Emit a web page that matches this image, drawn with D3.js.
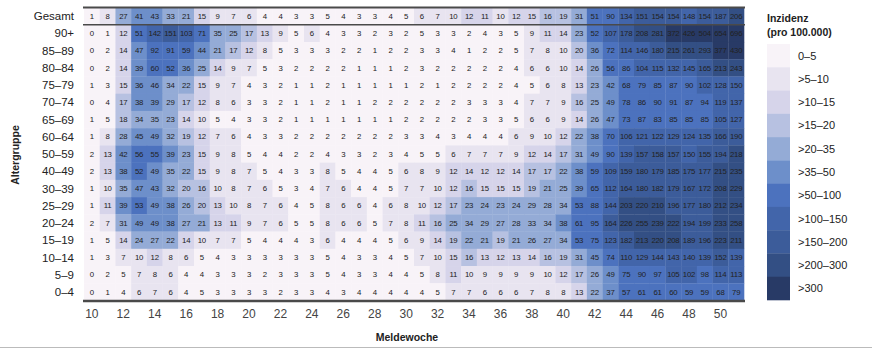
<!DOCTYPE html>
<html><head><meta charset="utf-8">
<script src="https://cdn.jsdelivr.net/npm/d3@7"></script>
<style>body{margin:0;background:#fff}svg{display:block}</style>
</head><body>
<svg id="c" width="872" height="350"></svg>
<script>
const weeks = d3.range(10, 52);
const weekTicks = d3.range(10, 51, 2);
const rows = ["Gesamt","90+","85–89","80–84","75–79","70–74","65–69","60–64","50–59","40–49","30–39","25–29","20–24","15–19","10–14","5–9","0–4"];
const Gesamt = [1,8,27,41,43,33,21,15,9,7,6,4,4,3, 3,5,4,3,3,4,5,6,7,10,12,11,10,12, 15,16,19,31,51,90,134,151,154,154,148,154,187,206];
const a90 = [0,1,12,51,142,151,103,71,35,25,17,13,9,5, 6,4,3,3,2,3,2,5,3,3,2,4,3,5, 9,11,14,23,52,107,178,208,281,372,426,504,654,696];
const a85 = [0,2,14,47,92,91,59,44,21,17,12,8,5,3, 3,3,2,2,1,2,2,3,3,4,1,2,2,5, 7,8,10,20,36,72,114,146,180,215,261,293,377,430];
const a80 = [0,2,14,39,60,52,36,25,14,9,7,5,3,2, 2,2,2,1,1,1,2,3,2,2,2,2,2,4, 6,6,10,14,26,56,86,104,115,132,145,165,213,243];
const a75 = [1,3,15,36,46,34,22,15,9,7,4,3,2,1, 1,2,1,1,1,1,1,2,1,2,2,2,2,4, 5,6,8,13,23,42,68,79,85,87,90,102,128,150];
const a70 = [0,4,17,38,39,29,17,12,8,6,3,3,2,1, 1,2,1,1,2,2,2,2,2,2,3,3,3,4, 7,7,9,16,25,49,78,86,90,91,87,94,119,137];
const a65 = [1,5,18,34,35,23,14,10,5,4,3,3,2,1, 1,1,1,1,1,1,2,2,2,2,2,3,3,5, 6,6,9,14,26,47,73,87,83,85,85,85,105,127];
const a60 = [1,8,28,45,49,32,19,12,7,6,4,3,3,2, 2,2,2,2,2,2,3,3,4,3,4,4,4,6, 9,10,12,22,38,70,106,121,122,129,124,135,166,190];
const a50 = [2,13,42,56,55,39,23,15,9,8,5,4,4,2, 2,4,3,3,2,3,4,5,5,6,7,7,7,9, 12,14,17,31,49,90,139,157,158,157,150,155,194,218];
const a40 = [2,13,38,52,49,35,22,15,9,8,7,5,4,3, 3,8,5,4,4,5,6,8,9,12,14,12,12,14, 17,17,22,38,59,109,159,180,179,185,175,177,215,235];
const a30 = [1,10,35,47,43,32,20,16,10,8,7,6,5,3, 4,7,6,4,4,5,7,7,10,12,16,15,15,15, 19,21,25,39,65,112,164,180,182,179,167,172,208,229];
const a25 = [1,11,39,53,49,38,26,20,13,10,8,7,6,4, 5,8,6,6,4,6,8,10,12,17,23,24,23,24, 29,28,34,53,88,144,203,220,210,196,177,180,212,234];
const a20 = [2,7,31,49,49,38,27,21,13,11,9,7,6,5, 5,8,6,6,5,7,8,11,16,25,34,29,27,28, 33,34,38,61,95,164,226,255,239,222,194,199,233,258];
const a15 = [1,5,14,24,27,22,14,10,7,7,5,4,4,4, 3,6,4,4,4,5,6,9,14,19,22,21,19,21, 26,27,34,53,75,123,182,213,220,208,189,196,223,211];
const a10 = [1,3,7,10,12,8,6,5,4,3,3,3,3,3, 3,5,4,3,3,4,5,7,10,15,16,13,12,13, 14,16,19,31,45,74,110,129,144,143,140,139,152,139];
const a5 = [0,2,5,7,8,6,4,4,3,3,3,2,3,3, 3,5,4,3,3,4,4,5,8,11,10,9,9,9, 9,10,12,17,26,49,75,90,97,105,102,98,114,113];
const a0 = [0,1,4,6,7,6,4,5,3,3,3,3,2,3, 3,4,3,4,4,4,4,4,5,7,7,6,6,6, 7,8,8,13,22,37,57,61,61,60,59,59,68,79];
const series = [Gesamt,a90,a85,a80,a75,a70,a65,a60,a50,a40,a30,a25,a20,a15,a10,a5,a0];
const thresholds = [5,10,15,20,35,50,100,150,200,300];
const legendLabels = ["0–5",">5–10",">10–15",">15–20",">20–35",">35–50",">50–100",">100–150",">150–200",">200–300",">300"];
const colors = ["#f8f3f8","#e8e4f0","#d6d4ea","#b7c1e1","#94abd6","#6d8fca","#4c72be","#4265aa","#3c5c9a","#334f84","#283a66"];

const svg = d3.select("#c");
const x = d3.scaleBand().domain(weeks).range([84, 744]);
const y = d3.scaleBand().domain(rows).range([7.5, 300.5]);
const color = d3.scaleThreshold().domain(thresholds.map(t => t + 0.5)).range(colors);

const cells = [];
rows.forEach((r, i) => weeks.forEach((w, j) => cells.push({r, w, v: series[i][j]})));

const g = svg.append("g");
g.selectAll("rect").data(cells).join("rect")
  .attr("x", d => x(d.w)).attr("y", d => y(d.r))
  .attr("width", x.bandwidth() + 0.3).attr("height", y.bandwidth() + 0.3)
  .attr("fill", d => color(d.v));
g.selectAll("text").data(cells).join("text")
  .attr("x", d => x(d.w) + x.bandwidth() / 2)
  .attr("y", d => y(d.r) + y.bandwidth() / 2)
  .attr("dy", "0.35em").attr("text-anchor", "middle")
  .attr("font-family", "Liberation Sans, Arial, sans-serif")
  .attr("font-size", 7.8).attr("fill", "#222")
  .attr("letter-spacing", -0.25)
  .text(d => d.v);

// lines
const lineColor = "#4a4a4a";
svg.append("line").attr("x1", 83).attr("x2", 745).attr("y1", y("Gesamt")).attr("y2", y("Gesamt"))
  .attr("stroke", lineColor).attr("stroke-width", 2);
svg.append("line").attr("x1", 83).attr("x2", 745).attr("y1", y("90+")).attr("y2", y("90+"))
  .attr("stroke", lineColor).attr("stroke-width", 1.6);
svg.append("line").attr("x1", 83).attr("x2", 745).attr("y1", y.range()[1] + 0.5).attr("y2", y.range()[1] + 0.5)
  .attr("stroke", lineColor).attr("stroke-width", 2.6);

// row labels
svg.append("g").selectAll("text").data(rows).join("text")
  .attr("x", 74).attr("y", d => y(d) + y.bandwidth() / 2).attr("dy", "0.36em")
  .attr("text-anchor", "end").attr("font-family", "Liberation Sans, Arial, sans-serif")
  .attr("font-size", 11.5).attr("fill", "#222").text(d => d);

// x axis
const xa = svg.append("g").attr("transform", "translate(0,305)")
  .call(d3.axisBottom(x).tickValues(weekTicks).tickSize(0).tickPadding(4));
xa.select(".domain").remove();
xa.selectAll("text").attr("font-family", "Liberation Sans, Arial, sans-serif")
  .attr("font-size", 12).attr("fill", "#444");

svg.append("text").attr("x", 407).attr("y", 341).attr("text-anchor", "middle")
  .attr("font-family", "Liberation Sans, Arial, sans-serif").attr("font-weight", "bold")
  .attr("font-size", 10.5).attr("fill", "#222").text("Meldewoche");
svg.append("text").attr("transform", "translate(19,155) rotate(-90)").attr("text-anchor", "middle")
  .attr("font-family", "Liberation Sans, Arial, sans-serif").attr("font-weight", "bold")
  .attr("font-size", 10.5).attr("fill", "#222").text("Altergruppe");

// legend
const lg = svg.append("g");
lg.append("text").attr("x", 767).attr("y", 22).attr("font-family", "Liberation Sans, Arial, sans-serif")
  .attr("font-weight", "bold").attr("font-size", 10.5).attr("fill", "#222").text("Inzidenz");
lg.append("text").attr("x", 767).attr("y", 36).attr("font-family", "Liberation Sans, Arial, sans-serif")
  .attr("font-weight", "bold").attr("font-size", 10.5).attr("fill", "#222").text("(pro 100.000)");
const ly = d3.scaleBand().domain(legendLabels).range([44, 300]);
lg.selectAll("rect").data(legendLabels).join("rect")
  .attr("x", 767).attr("y", d => ly(d)).attr("width", 23).attr("height", ly.bandwidth() + 0.3)
  .attr("fill", (d, i) => colors[i]);
lg.selectAll("text.l").data(legendLabels).join("text").attr("class", "l")
  .attr("x", 798).attr("y", d => ly(d) + ly.bandwidth() / 2).attr("dy", "0.36em")
  .attr("font-family", "Liberation Sans, Arial, sans-serif").attr("font-size", 11)
  .attr("fill", "#222").text(d => d);

svg.append("line").attr("x1", 0).attr("x2", 872).attr("y1", 347.5).attr("y2", 347.5)
  .attr("stroke", "#bbb").attr("stroke-width", 1);
</script>
</body></html>
